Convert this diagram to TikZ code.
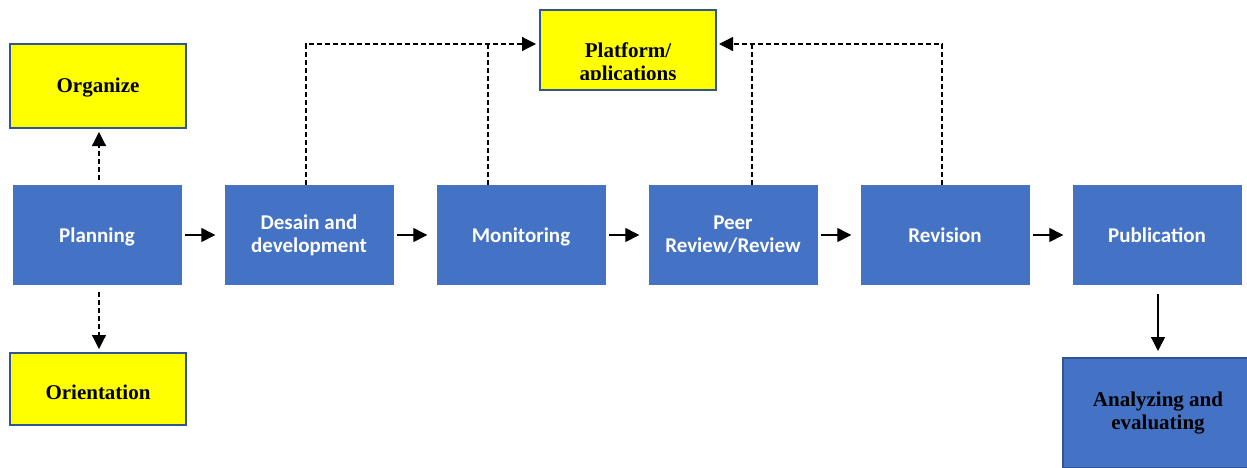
\documentclass[tikz,border=0pt]{standalone}
\usepackage{fontspec}
\setmainfont{Liberation Serif}
\newfontfamily\carl{Carlito}
\usetikzlibrary{arrows.meta}
\definecolor{stageblue}{HTML}{4472C4}
\definecolor{edgeblue}{HTML}{2F5597}
\definecolor{noteyellow}{HTML}{FFFF00}
\begin{document}
\begin{tikzpicture}[x=1pt,y=-1pt,
  stage/.style={fill=stageblue, draw=none, minimum width=169pt, minimum height=100pt,
    inner sep=0pt, text=white, align=center,
    font=\carl\bfseries\fontsize{21}{23}\selectfont},
  oneline/.style={text height=14pt, text depth=0pt},
  note/.style={fill=noteyellow, draw=edgeblue, line width=2pt, minimum width=176pt,
    inner sep=0pt, align=center, font=\bfseries\fontsize{21}{23.5}\selectfont},
  result/.style={fill=stageblue, draw=edgeblue, line width=2pt, minimum width=190pt,
    minimum height=110pt, inner sep=0pt, align=center,
    font=\bfseries\fontsize{21}{23}\selectfont},
  flow/.style={-{Triangle[length=14pt,width=14pt]}, line width=1.3pt},
  dashline/.style={dash pattern=on 5pt off 3pt, line width=1.2pt},
  link/.style={flow, dashline}]
\useasboundingbox (0,0) rectangle (1247,467);

% main stages
\node[stage, oneline] (plan) at (97,235)   {Planning};
\node[stage] (des)  at (309,235)  {Desain and\\development};
\node[stage, oneline] (mon)  at (521,235)  {Monitoring};
\node[stage] (peer) at (733,235)  {Peer\\Review/Review};
\node[stage, oneline] (rev)  at (945,235)  {Revision};
\node[stage, oneline] (pub)  at (1157,235) {Publication};

% side notes
\node[note, minimum height=84pt, text height=12pt, text depth=0pt] (org) at (98,86)  {Organize};
\node[note, minimum height=72pt, text height=20pt, text depth=0pt] (ori) at (98,389) {Orientation};
\node[note, minimum height=80pt] (plat) at (628,50) {};
\begin{scope}
  \clip (541,11) rectangle (715,79);
  \node[font=\bfseries\fontsize{21}{23.5}\selectfont, align=center, inner sep=0pt]
    (platlbl) at (628,64) {Platform/\\aplications};
\end{scope}
\node[result] (ana) at (1158,413) {Analyzing and\\evaluating};

% main flow
\foreach \a/\b in {plan/des, des/mon, mon/peer, peer/rev, rev/pub}
  \draw[flow, shorten <=3pt, shorten >=9pt] (\a.east) -- (\b.west);
\draw[flow, shorten <=9pt, shorten >=6pt] ([xshift=1pt]pub.south) -- ([xshift=1pt]pub.south |- ana.north);

% planning branches
\draw[link, shorten <=5pt, shorten >=3pt] ([xshift=2pt]plan.north) -- ([xshift=1pt]org.south);
\draw[link, shorten <=7pt, shorten >=3pt] ([xshift=2pt]plan.south) -- ([xshift=1pt]ori.north);

% links to the platform
\coordinate (pl) at ([yshift=6pt]plat.west);
\coordinate (pr) at ([yshift=6pt]plat.east);
\coordinate (desT) at ([xshift=-3pt]des.north);
\coordinate (monT) at ([xshift=-33pt]mon.north);
\coordinate (peerT) at ([xshift=19pt]peer.north);
\coordinate (revT) at ([xshift=-3pt]rev.north);
\draw[link, shorten >=3pt] (desT) |- (pl);
\draw[dashline] (monT) -- (monT |- pl);
\draw[link, shorten >=2pt] (revT) |- (pr);
\draw[dashline] (peerT) -- (peerT |- pr);
\end{tikzpicture}
\end{document}
